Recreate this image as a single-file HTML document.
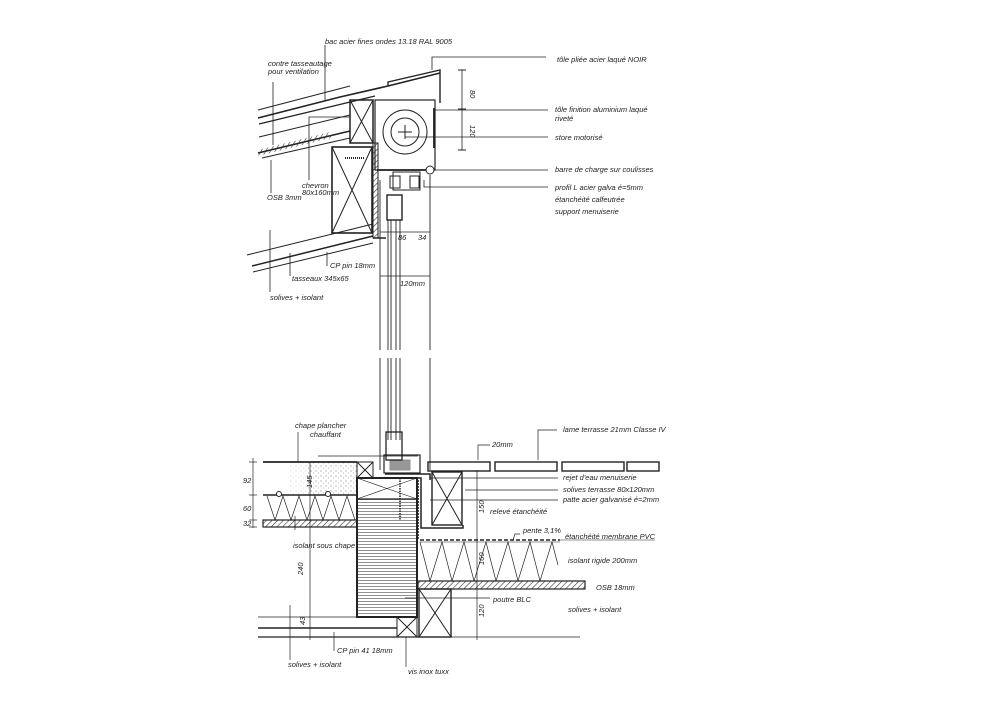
<!DOCTYPE html>
<html><head><meta charset="utf-8"><style>
html,body{margin:0;padding:0;background:#fff;}
svg{display:block}
text{font-family:"Liberation Sans",sans-serif;font-style:italic;fill:#222;font-size:7.5px}
</style></head><body>
<svg width="1000" height="707" viewBox="0 0 1000 707" xmlns="http://www.w3.org/2000/svg">
<defs>
<pattern id="hat" width="4" height="4" patternUnits="userSpaceOnUse" patternTransform="rotate(45)"><line x1="0" y1="0" x2="0" y2="4" stroke="#333" stroke-width="1.2"/></pattern>
<pattern id="hl" width="4" height="3" patternUnits="userSpaceOnUse"><line x1="0" y1="1.5" x2="4" y2="1.5" stroke="#444" stroke-width="0.6"/></pattern>
<pattern id="dots" width="5" height="5" patternUnits="userSpaceOnUse"><circle cx="1" cy="1" r="0.5" fill="#555"/><circle cx="3.5" cy="3" r="0.4" fill="#555"/></pattern>
</defs>
<g stroke="#222" fill="none" stroke-width="1">
<!-- ROOF -->
<polyline points="258,118 340,97 388,86 440,73" stroke-width="1.6"/>
<line x1="258" y1="110" x2="350" y2="86"/>
<line x1="259" y1="124" x2="375" y2="96" stroke-width="1.2"/>
<polyline points="388,86 388,82 440,70 440,103" stroke-width="1.4"/>
<line x1="259" y1="137" x2="350" y2="115"/>
<line x1="258" y1="153" x2="350" y2="131" stroke-width="1.5"/>
<rect x="258" y="150" width="75" height="6" fill="url(#hat)" stroke="none" transform="rotate(-14 258 153)"/>
<line x1="262" y1="158" x2="350" y2="138"/>
<line x1="247" y1="255" x2="373" y2="224"/>
<line x1="252" y1="266" x2="373" y2="236" stroke-width="1.5"/>
<line x1="253" y1="272" x2="373" y2="243"/>
<!-- block & chevron -->
<rect x="350" y="100" width="23" height="43" stroke-width="1.5"/>
<line x1="350" y1="100" x2="373" y2="143"/><line x1="373" y1="100" x2="350" y2="143"/>
<rect x="332" y="147" width="40" height="86" stroke-width="1.6"/>
<line x1="332" y1="147" x2="372" y2="233"/><line x1="372" y1="147" x2="332" y2="233"/>
<line x1="345" y1="158" x2="365" y2="158" stroke-dasharray="1 1" stroke-width="2"/>
<rect x="373" y="143" width="5" height="95" fill="url(#hat)"/>
<line x1="373" y1="238" x2="386" y2="238" stroke-width="1.5"/>
<!-- shutter box -->
<rect x="375" y="100" width="60" height="70" stroke-width="1.2"/>
<circle cx="405" cy="132" r="22"/>
<circle cx="405" cy="132" r="14"/>
<line x1="398" y1="132" x2="412" y2="132"/><line x1="405" y1="125" x2="405" y2="139"/>
<line x1="434" y1="108" x2="434" y2="148" stroke-width="1.8"/>
<line x1="377" y1="170" x2="432" y2="170" stroke-width="1.8"/>
<circle cx="430" cy="170" r="4" fill="#fff"/>
<!-- window profile top -->
<rect x="393" y="172" width="27" height="18"/>
<rect x="390" y="176" width="10" height="12"/><rect x="410" y="176" width="9" height="12"/>
<rect x="387" y="195" width="15" height="25" stroke-width="1.4"/>
<!-- glazing verticals -->
<g stroke-width="0.9">
<line x1="380" y1="180" x2="380" y2="350"/><line x1="380" y1="358" x2="380" y2="470"/>
<line x1="388" y1="220" x2="388" y2="350"/><line x1="388" y1="358" x2="388" y2="440"/>
<line x1="391" y1="220" x2="391" y2="350"/><line x1="391" y1="358" x2="391" y2="440"/>
<line x1="396" y1="220" x2="396" y2="350"/><line x1="396" y1="358" x2="396" y2="440"/>
<line x1="400" y1="220" x2="400" y2="350"/><line x1="400" y1="358" x2="400" y2="440"/>
<line x1="430" y1="175" x2="430" y2="350"/><line x1="430" y1="358" x2="430" y2="470"/>
</g>
<!-- dims top -->
<line x1="462" y1="70" x2="462" y2="150" stroke-width="0.8"/>
<line x1="458" y1="70" x2="466" y2="70"/><line x1="458" y1="109" x2="466" y2="109"/><line x1="458" y1="150" x2="466" y2="150"/>
<line x1="380" y1="232" x2="430" y2="232" stroke-width="0.7"/>
<line x1="380" y1="276" x2="430" y2="276" stroke-width="0.7"/>
<!-- leader lines top -->
<g stroke-width="0.8">
<polyline points="546,57 432,57 432,70"/>
<line x1="325" y1="45" x2="325" y2="100"/>
<line x1="273" y1="82" x2="273" y2="145"/>
<polyline points="548,110 435,110"/>
<line x1="548" y1="137" x2="405" y2="137"/>
<line x1="548" y1="170" x2="434" y2="170"/>
<polyline points="548,187 424,187 424,180"/>
<polyline points="309,180 309,117 350,117"/>
<line x1="271" y1="160" x2="271" y2="193"/>
<polyline points="327,266 327,252"/>
<polyline points="290,276 290,253"/>
<line x1="270" y1="230" x2="270" y2="292"/>
</g>
<!-- FLOOR LEFT -->
<line x1="263" y1="462" x2="357" y2="462" stroke-width="1.8"/>
<rect x="308" y="463" width="49" height="32" fill="url(#dots)" stroke="none"/>
<rect x="290" y="463" width="20" height="32" fill="url(#dots)" stroke="none" opacity="0.4"/>
<line x1="263" y1="495" x2="357" y2="495" stroke-width="1.4"/>
<polyline points="267,496 275,520 283,496 291,520 299,496 307,520 315,496 323,520 331,496 339,520 347,496 355,520" stroke-width="0.7"/>
<circle cx="279" cy="494" r="2.5" fill="#fff"/><circle cx="328" cy="494" r="2.5" fill="#fff"/>
<rect x="263" y="520" width="94" height="7" fill="url(#hat)" stroke-width="1.2"/>
<rect x="357" y="462" width="16" height="16"/>
<line x1="357" y1="462" x2="373" y2="478"/><line x1="373" y1="462" x2="357" y2="478"/>
<!-- beam -->
<rect x="357" y="478" width="60" height="139" stroke-width="2"/>
<rect x="358" y="499" width="58" height="117" fill="url(#hl)" stroke="none"/>
<line x1="357" y1="499" x2="417" y2="499" stroke-width="1.2"/>
<line x1="357" y1="478" x2="417" y2="499" stroke-width="0.6"/><line x1="417" y1="478" x2="357" y2="499" stroke-width="0.6"/>
<line x1="400" y1="478" x2="400" y2="520" stroke-dasharray="1.5 1" stroke-width="1.5"/>
<rect x="397" y="617" width="20" height="20"/>
<line x1="397" y1="617" x2="417" y2="637"/><line x1="417" y1="617" x2="397" y2="637"/>
<!-- window bottom -->
<rect x="386" y="432" width="16" height="28" stroke-width="1.3"/>
<rect x="384" y="455" width="36" height="18" stroke-width="1.2"/>
<rect x="390" y="460" width="20" height="10" fill="#333" opacity="0.5"/>
<polyline points="385,474 430,474 430,480" stroke-width="1.5"/>
<polyline points="415,478 421,478 421,528 463,528 463,525" stroke-width="1.5"/>
<polyline points="418,480 418,540" stroke-dasharray="2 1" stroke-width="1.6"/>
<!-- decking -->
<rect x="428" y="462" width="62" height="9" stroke-width="1.4"/>
<rect x="495" y="462" width="62" height="9" stroke-width="1.4"/>
<rect x="562" y="462" width="62" height="9" stroke-width="1.4"/>
<rect x="627" y="462" width="32" height="9" stroke-width="1.4"/>
<rect x="432" y="472" width="30" height="53" stroke-width="1.4"/>
<line x1="432" y1="472" x2="462" y2="525"/><line x1="462" y1="472" x2="432" y2="525"/>
<line x1="420" y1="540" x2="560" y2="540" stroke-width="1.5" stroke-dasharray="4 2"/>
<line x1="420" y1="542" x2="560" y2="542" stroke-width="0.6"/>
<polyline points="420,542 430,581 442,542 452,581 464,542 474,581 486,542 496,581 508,542 518,581 530,542 540,581 552,542 558,565" stroke-width="0.7"/>
<rect x="418" y="581" width="167" height="8" fill="url(#hat)" stroke-width="1.2"/>
<rect x="419" y="589" width="32" height="48" stroke-width="1.4"/>
<line x1="419" y1="589" x2="451" y2="637"/><line x1="451" y1="589" x2="419" y2="637"/>
<line x1="560" y1="540" x2="655" y2="540" stroke-width="0.6"/>
<!-- ceiling bottom -->
<line x1="258" y1="617" x2="357" y2="617" stroke-width="0.8"/>
<line x1="258" y1="628" x2="397" y2="628" stroke-width="1.4"/>
<line x1="258" y1="637" x2="419" y2="637" stroke-width="1.2"/>
<line x1="451" y1="637" x2="580" y2="637" stroke-width="0.8"/>
<!-- dims bottom -->
<g stroke-width="0.7">
<line x1="253" y1="458" x2="253" y2="528"/>
<line x1="249" y1="462" x2="257" y2="462"/><line x1="249" y1="495" x2="257" y2="495"/><line x1="249" y1="520" x2="257" y2="520"/><line x1="249" y1="527" x2="257" y2="527"/>
<line x1="310" y1="462" x2="310" y2="640"/>
<line x1="477" y1="470" x2="477" y2="640"/>
<line x1="318" y1="456" x2="418" y2="456"/>
<polyline points="490,445 478,445 478,460"/>
<polyline points="557,430 538,430 538,460"/>
<line x1="558" y1="478" x2="430" y2="478"/>
<line x1="558" y1="490" x2="465" y2="490"/>
<line x1="558" y1="500" x2="430" y2="500"/>
<polyline points="520,534 515,534 513,540"/>
<line x1="490" y1="598" x2="405" y2="598"/>
<line x1="298" y1="432" x2="298" y2="462"/>
<line x1="295" y1="530" x2="295" y2="516"/>
<line x1="290" y1="660" x2="290" y2="605"/>
<line x1="334" y1="651" x2="334" y2="632"/>
<line x1="406" y1="667" x2="406" y2="637"/>
</g>
</g>
<!-- TEXT top -->
<text x="325" y="44" font-size="8.5">bac acier fines ondes 13.18 RAL 9005</text>
<text x="268" y="66" font-size="6">contre tasseautage</text>
<text x="268" y="74" font-size="6">pour ventilation</text>
<text x="557" y="62" font-size="9">tôle pliée acier laqué NOIR</text>
<text x="555" y="112" font-size="8.5">tôle finition aluminium laqué</text>
<text x="555" y="121" font-size="8.5">riveté</text>
<text x="555" y="140" font-size="8">store motorisé</text>
<text x="555" y="172" font-size="8">barre de charge sur coulisses</text>
<text x="555" y="190" font-size="8">profil L acier galva é=5mm</text>
<text x="555" y="202" font-size="8">étanchéité calfeutrée</text>
<text x="555" y="214" font-size="8">support menuiserie</text>
<text x="302" y="188" font-size="6">chevron</text>
<text x="302" y="195" font-size="6">80x160mm</text>
<text x="267" y="200" font-size="6.5">OSB 3mm</text>
<text x="330" y="268" font-size="6.5">CP pin 18mm</text>
<text x="292" y="281" font-size="7">tasseaux 345x65</text>
<text x="270" y="300" font-size="6.5">solives + isolant</text>
<text x="398" y="240" font-size="6">86</text><text x="418" y="240" font-size="6">34</text>
<text x="400" y="286" font-size="6.5">120mm</text>
<text x="470" y="90" font-size="6" transform="rotate(90 470 90)">80</text>
<text x="470" y="125" font-size="6" transform="rotate(90 470 125)">120</text>
<!-- TEXT bottom -->
<text x="295" y="428" font-size="8">chape plancher</text>
<text x="310" y="437" font-size="8">chauffant</text>
<text x="563" y="432" font-size="8">lame terrasse 21mm Classe IV</text>
<text x="492" y="447" font-size="6.5">20mm</text>
<text x="563" y="480" font-size="7.5">rejet d'eau menuiserie</text>
<text x="563" y="492" font-size="7.5">solives terrasse 80x120mm</text>
<text x="563" y="502" font-size="7.5">patte acier galvanisé é=2mm</text>
<text x="490" y="514" font-size="7">relevé étanchéité</text>
<text x="523" y="533" font-size="7">pente 3,1%</text>
<text x="565" y="539" font-size="7.5">étanchéité membrane PVC</text>
<text x="568" y="563" font-size="8">isolant rigide 200mm</text>
<text x="596" y="590" font-size="7.5">OSB 18mm</text>
<text x="493" y="602" font-size="7.5">poutre BLC</text>
<text x="568" y="612" font-size="7.5">solives + isolant</text>
<text x="293" y="548" font-size="7">isolant sous chape</text>
<text x="337" y="653" font-size="6.5">CP pin 41 18mm</text>
<text x="288" y="667" font-size="6.5">solives + isolant</text>
<text x="408" y="674" font-size="6">vis inox tuxx</text>
<text x="243" y="483" font-size="6">92</text>
<text x="243" y="511" font-size="6">60</text>
<text x="243" y="526" font-size="6">32</text>
<text x="303" y="575" font-size="6.5" transform="rotate(-90 303 575)">240</text>
<text x="305" y="625" font-size="6" transform="rotate(-90 305 625)">43</text>
<text x="312" y="488" font-size="6" transform="rotate(-90 312 488)">145</text>
<text x="484" y="513" font-size="6" transform="rotate(-90 484 513)">150</text>
<text x="484" y="565" font-size="6" transform="rotate(-90 484 565)">160</text>
<text x="484" y="617" font-size="6" transform="rotate(-90 484 617)">120</text>
</svg>
</body></html>
